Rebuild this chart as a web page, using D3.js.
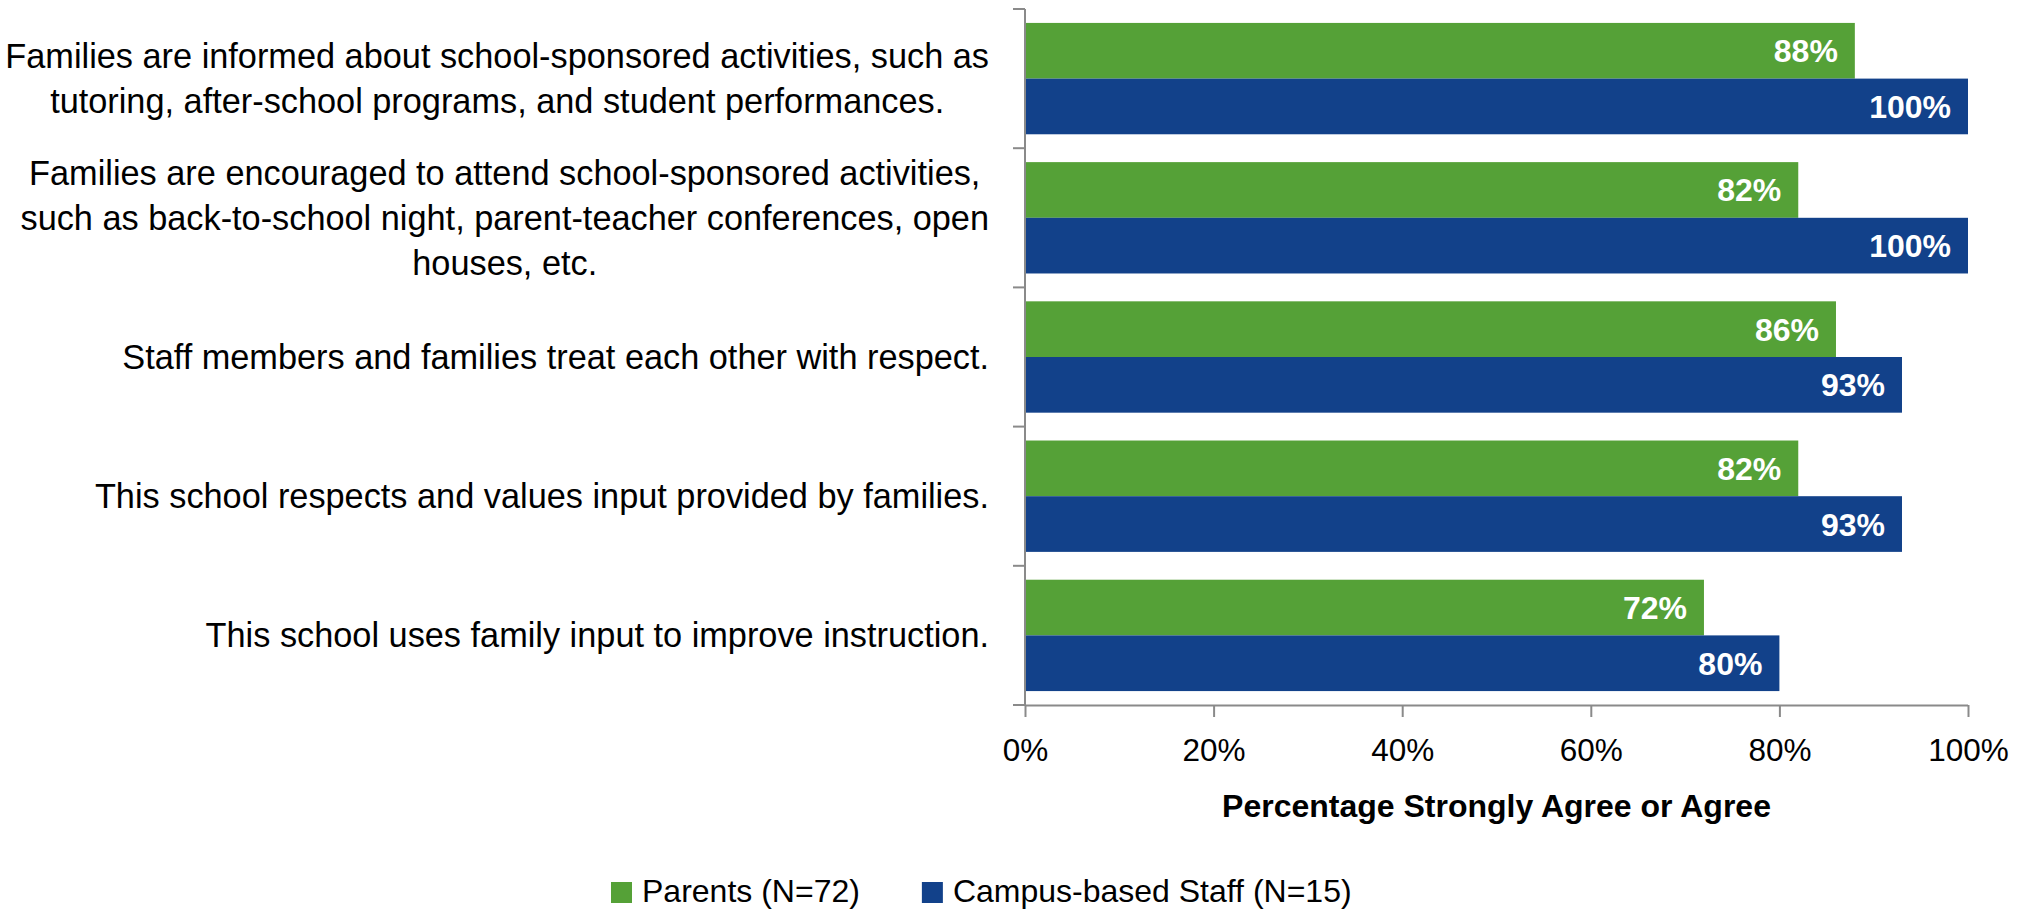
<!DOCTYPE html>
<html>
<head>
<meta charset="utf-8">
<script src="https://cdn.jsdelivr.net/npm/d3@7"></script>
<style>
  html, body { margin: 0; padding: 0; background: #ffffff; }
  svg { display: block; font-family: "Liberation Sans", Arial, sans-serif; }
</style>
</head>
<body>
<svg id="chart" width="2026" height="909"></svg>
<script>
// Survey items (line breaks mark how each label wraps)
const categories = [
  "Families are informed about school-sponsored activities, such as\ntutoring, after-school programs, and student performances.",
  "Families are encouraged to attend school-sponsored activities,\nsuch as back-to-school night, parent-teacher conferences, open\nhouses, etc.",
  "Staff members and families treat each other with respect.",
  "This school respects and values input provided by families.",
  "This school uses family input to improve instruction."
];
const seriesNames = ["Parents (N=72)", "Campus-based Staff (N=15)"];
const parentValues = [0.88, 0.82, 0.86, 0.82, 0.72];
const staffValues  = [1.00, 1.00, 0.93, 0.93, 0.80];
const xTickValues  = [0, 0.2, 0.4, 0.6, 0.8, 1.0];
const xAxisTitle   = "Percentage Strongly Agree or Agree";
const seriesColors = ["#55A137", "#12418A"];

const seriesValues = [parentValues, staffValues];
const rows = categories.map((c, i) => ({
  category: c,
  values: seriesValues.map((vals, s) => ({ series: s, value: vals[i] }))
}));

const svg = d3.select("#chart");
const margin = { left: 1025, right: 58, top: 9, bottom: 204 };
const W = 2026, H = 909;

const x = d3.scaleLinear().domain([0, 1]).range([margin.left, W - margin.right]);
const y0 = d3.scaleBand().domain(categories).range([margin.top, H - margin.bottom])
  .paddingInner(0.2).paddingOuter(0.1);
const y1 = d3.scaleBand().domain(d3.range(seriesNames.length)).range([0, y0.bandwidth()]);

const axisColor = "#8a8a8a";
const fmt = d3.format(".0%");

// Bars
const groups = svg.append("g").selectAll("g")
  .data(rows).join("g")
  .attr("transform", d => `translate(0,${y0(d.category)})`);

groups.selectAll("rect")
  .data(d => d.values).join("rect")
  .attr("x", x(0))
  .attr("y", d => y1(d.series))
  .attr("width", d => x(d.value) - x(0))
  .attr("height", y1.bandwidth())
  .attr("fill", d => seriesColors[d.series]);

// Value labels inside the bar ends
groups.selectAll("text.value")
  .data(d => d.values).join("text")
  .attr("class", "value")
  .attr("x", d => x(d.value) - 17)
  .attr("y", d => y1(d.series) + y1.bandwidth() / 2)
  .attr("dy", "0.36em")
  .attr("text-anchor", "end")
  .attr("fill", "#ffffff")
  .attr("font-weight", "bold")
  .attr("font-size", 32)
  .text(d => fmt(d.value));

// Category axis: line plus ticks on the band boundaries
const bandEdges = categories.map(c => y0(c) - y0.step() * y0.paddingOuter())
  .concat([H - margin.bottom]);
const yAxis = svg.append("g");
yAxis.append("line")
  .attr("x1", x(0)).attr("x2", x(0))
  .attr("y1", margin.top).attr("y2", H - margin.bottom)
  .attr("stroke", axisColor).attr("stroke-width", 2);
yAxis.selectAll("line.tick")
  .data(bandEdges).join("line")
  .attr("class", "tick")
  .attr("x1", x(0) - 12).attr("x2", x(0))
  .attr("y1", d => d).attr("y2", d => d)
  .attr("stroke", axisColor).attr("stroke-width", 2);

// Category labels: centred lines, block right-aligned against the axis
const labelRight = 989;
const lineGap = 45;
categories.forEach(c => {
  const lines = c.split("\n");
  const cy = y0(c) + y0.bandwidth() / 2;
  const t = svg.append("text")
    .attr("font-size", 34.3)
    .attr("fill", "#000000")
    .attr("text-anchor", "middle");
  lines.forEach((ln, i) => {
    t.append("tspan")
      .attr("y", cy + (i - (lines.length - 1) / 2) * lineGap)
      .attr("dy", "0.35em")
      .text(ln);
  });
  const widths = [];
  t.selectAll("tspan").each(function () { widths.push(this.getComputedTextLength()); });
  const maxW = d3.max(widths);
  t.selectAll("tspan").attr("x", labelRight - maxW / 2);
});

// Value axis
const xAxis = svg.append("g")
  .attr("transform", `translate(0,${H - margin.bottom})`)
  .call(d3.axisBottom(x).tickValues(xTickValues).tickFormat(fmt)
    .tickSize(12).tickPadding(22));
xAxis.select(".domain").attr("stroke", axisColor).attr("stroke-width", 2)
  .attr("d", `M${x(0)},0.5H${x(1)}`);
xAxis.selectAll(".tick line").attr("stroke", axisColor).attr("stroke-width", 2);
xAxis.selectAll(".tick text")
  .attr("font-family", "Liberation Sans, Arial, sans-serif")
  .attr("font-size", 31.5)
  .attr("fill", "#000000")
  .attr("dy", "0.71em");

// Axis title
svg.append("text")
  .attr("x", (x(0) + x(1)) / 2)
  .attr("y", 817)
  .attr("text-anchor", "middle")
  .attr("font-weight", "bold")
  .attr("font-size", 32)
  .attr("fill", "#000000")
  .text(xAxisTitle);

// Legend
const legend = svg.append("g").attr("transform", "translate(611,0)");
let cursor = 0;
seriesNames.forEach((name, i) => {
  const item = legend.append("g").attr("transform", `translate(${cursor},0)`);
  item.append("rect")
    .attr("x", 0).attr("y", 882)
    .attr("width", 21).attr("height", 21)
    .attr("fill", seriesColors[i]);
  const txt = item.append("text")
    .attr("x", 31).attr("y", 902)
    .attr("font-size", 32)
    .attr("fill", "#000000")
    .text(name);
  cursor += 31 + txt.node().getComputedTextLength() + 62;
});
</script>
</body>
</html>
